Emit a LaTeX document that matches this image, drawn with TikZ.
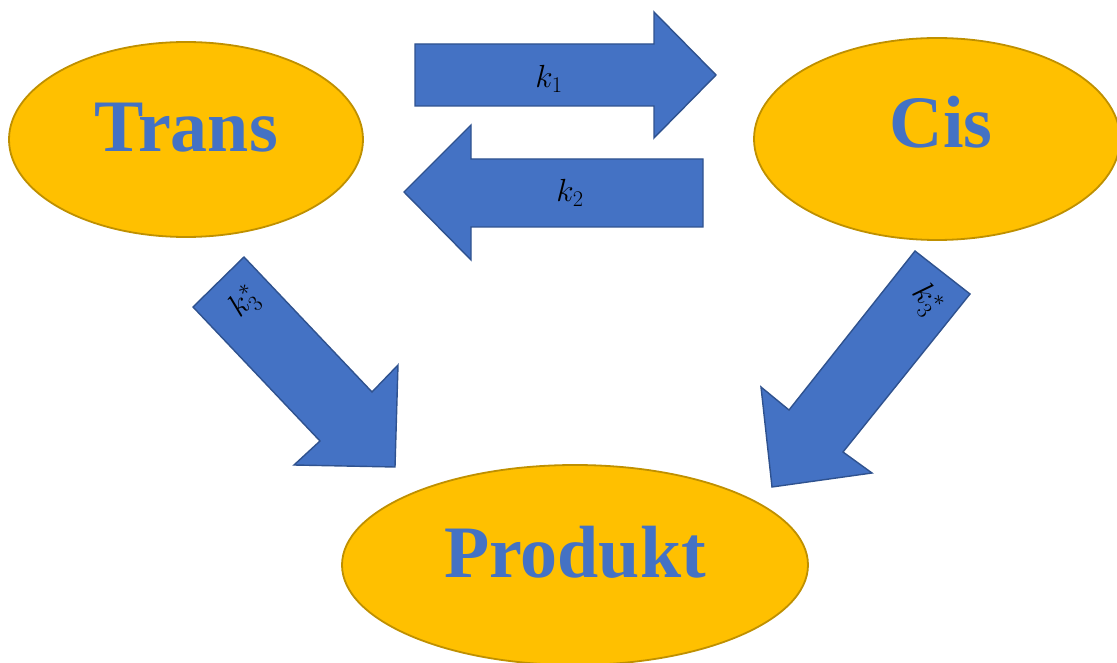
\RequirePackage{fix-cm}
\documentclass[tikz,border=0pt]{standalone}
\usepackage{fontspec}
\setmainfont{Liberation Serif}
\usetikzlibrary{shapes.geometric}
\definecolor{gold}{HTML}{FFC000}
\definecolor{golddark}{HTML}{BF9000}
\definecolor{blueA}{HTML}{4472C4}
\definecolor{blueB}{HTML}{2F528F}
\tikzset{
  species/.style={ellipse, fill=gold, draw=golddark, line width=1.8pt, inner sep=0pt},
  specname/.style={anchor=base, text=blueA, inner sep=0pt, font=\fontsize{74}{80}\selectfont\bfseries},
  blockarrow/.style={fill=blueA, draw=blueB, line width=1.4pt, line join=miter},
  ratelabel/.style={inner sep=0pt, font=\fontsize{32}{38}\selectfont}
}
\begin{document}
\begin{tikzpicture}[x=1pt,y=-1pt]
\useasboundingbox (0,0) rectangle (1117,663);
% species ellipses
\node[species, minimum width=354pt, minimum height=195pt] (trans) at (186,139.5) {};
\node[species, minimum width=366pt, minimum height=202pt] (cis) at (937,139) {};
\node[species, minimum width=466pt, minimum height=200pt] (prod) at (575,565) {};
\node[specname] (transtxt) at (186,152) {Trans};
\node[specname] (cistxt) at (941,148) {Cis};
\node[specname] (prodtxt) at (575,577) {Produkt};
% block arrows
\draw[blockarrow] (415,44) -- (654,44) -- (654,12) -- (716,75) -- (654,138) -- (654,106) -- (415,106) -- cycle;
\draw[blockarrow] (703,159) -- (471,159) -- (471,125) -- (404,192) -- (471,260) -- (471,227) -- (703,227) -- cycle;
\draw[blockarrow] (193,307) -- (244,257) -- (372,392) -- (398,365) -- (395,467) -- (294,465) -- (320,441) -- cycle;
\draw[blockarrow] (915,251) -- (970,294) -- (843,452) -- (872,473) -- (772,487) -- (761,387) -- (789,410) -- cycle;
% rate labels
\node[ratelabel] (k1) at (549,79) {$k_1$};
\node[ratelabel] (k2) at (570,193) {$k_2$};
\node[ratelabel, rotate=45] (k3a) at (245,303) {$k_3^*$};
\node[ratelabel, rotate=-50] (k3b) at (926,300) {$k_3^*$};
\end{tikzpicture}
\end{document}
